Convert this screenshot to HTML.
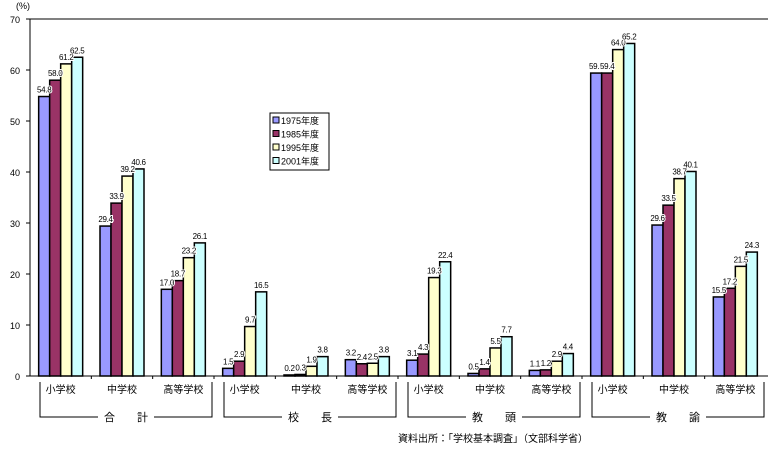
<!DOCTYPE html>
<html><head><meta charset="utf-8"><style>
body{margin:0;background:#fff}
svg text{font-family:"Liberation Sans","Noto Sans CJK JP",sans-serif;fill:#000}
.v{paint-order:stroke;stroke:#fff;stroke-width:2px;letter-spacing:-0.3px}
</style></head><body>
<svg id="c" width="769" height="449" xmlns="http://www.w3.org/2000/svg"></svg>
<script>
const categories=["小学校","中学校","高等学校","小学校","中学校","高等学校","小学校","中学校","高等学校","小学校","中学校","高等学校"];
const groups=["合　　計","校　　長","教　　頭","教　　諭"];
const years=["1975年度","1985年度","1995年度","2001年度"];
const s1975=[54.8,29.4,17.0,1.5,0.2,3.2,3.1,0.5,1.1,59.4,29.6,15.5];
const s1985=[58.0,33.9,18.7,2.9,0.3,2.4,4.3,1.4,1.2,59.4,33.5,17.2];
const s1995=[61.2,39.2,23.2,9.7,1.9,2.5,19.3,5.5,2.9,64.0,38.7,21.5];
const s2001=[62.5,40.6,26.1,16.5,3.8,3.8,22.4,7.7,4.4,65.2,40.1,24.3];
const yTicks=[0,10,20,30,40,50,60,70];
const series=[s1975,s1985,s1995,s2001];
const colors=["#9999ff","#993366","#ffffcc","#ccffff"];
const svg=document.getElementById('c');const NS="http://www.w3.org/2000/svg";
const L=30,R=766,T=19,B=376,YMAX=70;
const y=v=>B-(v/YMAX)*(B-T);
const gw=(R-L)/categories.length;
const xc=i=>L+gw*(i+0.5);
const BW=11;
function el(tag,attrs,parent){const e=document.createElementNS(NS,tag);for(const k in attrs)e.setAttribute(k,attrs[k]);(parent||svg).appendChild(e);return e;}
function txt(x,yy,s,size,anchor){const t=el('text',{x:x,y:yy,'font-size':size,'text-anchor':anchor||'middle'});t.textContent=s;return t;}
const ax=el('g',{});


el('line',{x1:L,y1:T,x2:R+2,y2:T,stroke:'#000','stroke-width':1},ax);
el('line',{x1:L,y1:T,x2:L,y2:B,stroke:'#000','stroke-width':1},ax);
el('line',{x1:L,y1:B,x2:R+2,y2:B,stroke:'#000','stroke-width':1},ax);
yTicks.forEach(v=>{
  el('line',{x1:L-4,y1:y(v),x2:L,y2:y(v),stroke:'#000'},ax);
  const t=txt(L-10,y(v)+4,String(v),9,'end');
  
  
});
const u=txt(L-14,9,'(%)',9,'start');


for(let i=1;i<categories.length;i++){el('line',{x1:L+gw*i,y1:B,x2:L+gw*i,y2:B+3,stroke:'#000'},ax);}
const labels=[];
categories.forEach((c,i)=>{
  series.forEach((s,k)=>{
    const x0=xc(i)-2*BW+k*BW;
    const r=el('rect',{x:x0,y:y(s[i]),width:BW,height:B-y(s[i]),fill:colors[k],stroke:'#000','stroke-width':1.5});
    
    
    labels.push([x0+BW/2,y(s[i])-4,s[i].toFixed(1)]);
  });
  const t=txt(xc(i),393,c,10);
  
  
});
labels.forEach(l=>{
  const t=txt(l[0],l[1],l[2],8);
  t.setAttribute('class','v');
  
  
});
groups.forEach((g,j)=>{
  const x1=L+gw*3*j+10,x2=L+gw*3*(j+1)-2;
  const mid=(x1+x2)/2;
  const p=el('path',{d:`M${x1},382 V417 H${mid-28} M${mid+28},417 H${x2} V382`,fill:'none',stroke:'#000'});
  
  
  const t=txt(mid,421,g,11);
  
  
});
const lg=el('g',{});


el('rect',{x:270,y:113,width:59,height:57,fill:'#fff',stroke:'#000'},lg);
years.forEach((yr,k)=>{
  const yy=121+k*13.5;
  el('rect',{x:273,y:yy-4,width:6,height:6,fill:colors[k],stroke:'#000'},lg);
  const t=txt(281,yy+3,yr,9,'start');
  
  
  lg.appendChild(t);
});
const src=txt(398,442,'資料出所：「学校基本調査」（文部科学省）',10,'start');


</script>
</body></html>
